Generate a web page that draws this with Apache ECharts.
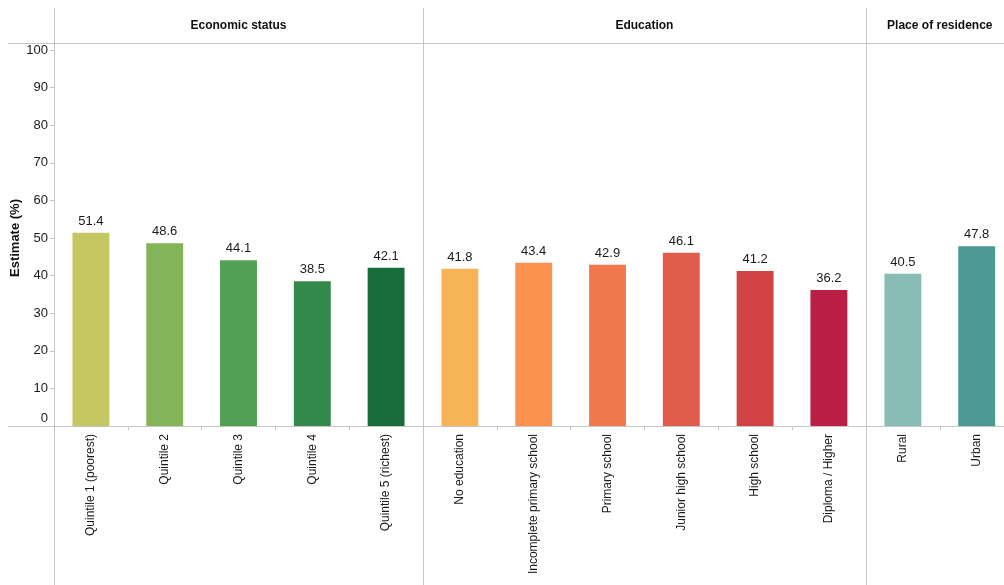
<!DOCTYPE html>
<html>
<head>
<meta charset="utf-8">
<script src="https://cdn.jsdelivr.net/npm/echarts@6/dist/echarts.min.js"></script>
<style>html,body{margin:0;padding:0;background:#fff;overflow:hidden;width:1004px;height:585px}#c{width:1014px;height:585px}</style>
</head>
<body>
<div id="c"></div>
<script>
// ---- data ----
const panelTitles = ['Economic status', 'Education', 'Place of residence'];
const econCats = ['Quintile 1 (poorest)', 'Quintile 2', 'Quintile 3', 'Quintile 4', 'Quintile 5 (richest)'];
const econVals = [51.4, 48.6, 44.1, 38.5, 42.1];
const eduCats = ['No education', 'Incomplete primary school', 'Primary school', 'Junior high school', 'High school', 'Diploma / Higher'];
const eduVals = [41.8, 43.4, 42.9, 46.1, 41.2, 36.2];
const resCats = ['Rural', 'Urban'];
const resVals = [40.5, 47.8];
const yTicks = [0, 10, 20, 30, 40, 50, 60, 70, 80, 90, 100];

// ---- styles ----
const econColors = ['#c5c862', '#84b45a', '#52a054', '#33894b', '#176d3a'];
const eduColors = ['#f6b357', '#fb934f', '#ef794d', '#e05c4b', '#d24345', '#bb1e44'];
const resColors = ['#88bdb5', '#4a9a93'];

const FONT = 'Liberation Sans, Arial, sans-serif';
const TXT = '#1a1a1a';
const LINE = '#c6c6c6';
const TOP = 50, H = 376, BAND = 73.8;
const panels = [
  {cats: econCats, vals: econVals, colors: econColors, left: 54},
  {cats: eduCats, vals: eduVals, colors: eduColors, left: 423},
  {cats: resCats, vals: resVals, colors: resColors, left: 866}
];

const grids = [], xAxes = [], yAxes = [], series = [], graphics = [];
panels.forEach((p, i) => {
  const w = BAND * p.cats.length;
  grids.push({left: p.left, top: TOP, width: w, height: H, containLabel: false});
  xAxes.push({
    type: 'category', gridIndex: i, data: p.cats,
    axisLine: {show: false},
    axisTick: {show: true, length: 4, lineStyle: {color: LINE}},
    axisLabel: {rotate: 90, fontSize: 12, color: TXT, fontFamily: FONT, margin: 8}
  });
  yAxes.push({
    type: 'value', gridIndex: i, min: yTicks[0], max: yTicks[yTicks.length - 1], interval: 10,
    splitLine: {show: false},
    axisLine: {show: false},
    axisTick: {show: i === 0, length: 4, lineStyle: {color: LINE}},
    axisLabel: {
      show: i === 0, fontSize: 13, color: TXT, fontFamily: FONT, margin: 6,
      formatter: v => v === 0 ? '{z|0}' : String(v),
      rich: {z: {fontSize: 13, color: TXT, fontFamily: FONT, padding: [0, 0, 16, 0]}}
    },
    name: i === 0 ? 'Estimate (%)' : '',
    nameLocation: 'middle', nameGap: 26,
    nameTextStyle: {fontSize: 13, fontWeight: 'bold', color: '#111', fontFamily: FONT}
  });
  series.push({
    type: 'bar', xAxisIndex: i, yAxisIndex: i, barWidth: '50%',
    data: p.vals.map((v, k) => ({value: v, itemStyle: {color: p.colors[k]}})),
    label: {show: true, position: 'top', distance: 5, fontSize: 13, color: TXT, fontFamily: FONT},
    silent: true
  });
  graphics.push({
    type: 'text', x: p.left + w / 2, y: 26,
    style: {text: panelTitles[i], textAlign: 'center', textVerticalAlign: 'middle', font: 'bold 12px ' + FONT, fill: '#111'}
  });
});

// separators and frame lines
[54, 423, 866].forEach(x => {
  graphics.push({type: 'line', shape: {x1: x + 0.5, y1: 8, x2: x + 0.5, y2: 585}, style: {stroke: LINE, lineWidth: 1}, z: 10});
});
graphics.push({type: 'line', shape: {x1: 8, y1: 43.5, x2: 1014, y2: 43.5}, style: {stroke: LINE, lineWidth: 1}, z: 10});
graphics.push({type: 'line', shape: {x1: 8, y1: TOP + H + 0.5, x2: 1014, y2: TOP + H + 0.5}, style: {stroke: LINE, lineWidth: 1}, z: 10});

const chart = echarts.init(document.getElementById('c'), null, {renderer: 'canvas'});
chart.setOption({
  animation: false,
  backgroundColor: '#fff',
  textStyle: {fontFamily: FONT},
  grid: grids, xAxis: xAxes, yAxis: yAxes, series: series,
  graphic: graphics
});
</script>
</body>
</html>
